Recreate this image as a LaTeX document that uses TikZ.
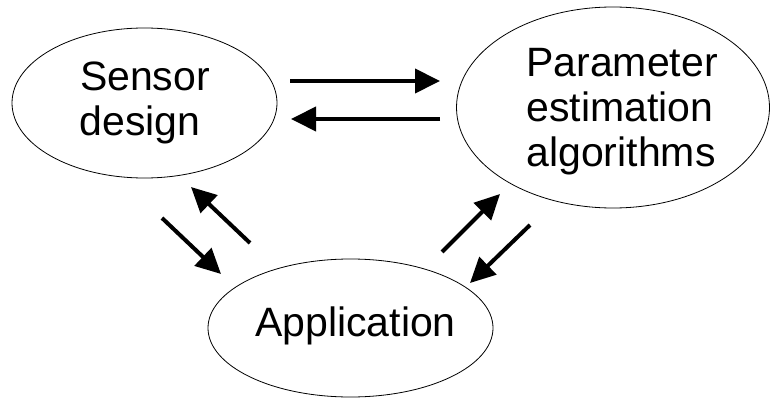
\documentclass[tikz,border=0pt]{standalone}
\usepackage{fontspec}
\setmainfont{Liberation Sans}
\usetikzlibrary{shapes.geometric,arrows.meta}
\begin{document}
\begin{tikzpicture}[x=1pt,y=-1pt,
  blob/.style={draw=black,line width=0.8pt,ellipse,inner sep=0pt,outer sep=0pt},
  word/.style={anchor=base,inner sep=0pt,font=\fontsize{41}{46}\selectfont},
  flow/.style={line width=4pt,-{Triangle[length=25pt,width=24pt]}}]
\useasboundingbox (0,0) rectangle (770,398);

% the three activities
\node[blob,minimum width=265pt,minimum height=150pt] (sensor) at (144.5,103) {};
\node[blob,minimum width=313pt,minimum height=201pt] (param) at (613,107.5) {};
\node[blob,minimum width=285pt,minimum height=138pt] (app) at (350.5,328) {};

% labels
\node[word] (s1) at (145,91) {Sensor};
\node[word] (s2) at (140,136) {design};
\node[word] (p1) at (622,77) {Parameter};
\node[word] (p2) at (620,122) {estimation};
\node[word] (p3) at (621,167) {algorithms};
\node[word] (a1) at (355.5,336) {Application};

% arrow end points
\coordinate (sp1) at (290,81);  \coordinate (sp2) at (440,81);
\coordinate (ps1) at (440,119); \coordinate (ps2) at (291,119);
\coordinate (sa1) at (162,218); \coordinate (sa2) at (221,274);
\coordinate (as1) at (250,243); \coordinate (as2) at (191,187);
\coordinate (ap1) at (442,252); \coordinate (ap2) at (500,194);
\coordinate (pa1) at (530,225); \coordinate (pa2) at (470,283);

% exchanges between the activities
\draw[flow] (sp1) -- (sp2);
\draw[flow] (ps1) -- (ps2);
\draw[flow] (sa1) -- (sa2);
\draw[flow] (as1) -- (as2);
\draw[flow] (ap1) -- (ap2);
\draw[flow] (pa1) -- (pa2);
\end{tikzpicture}
\end{document}
